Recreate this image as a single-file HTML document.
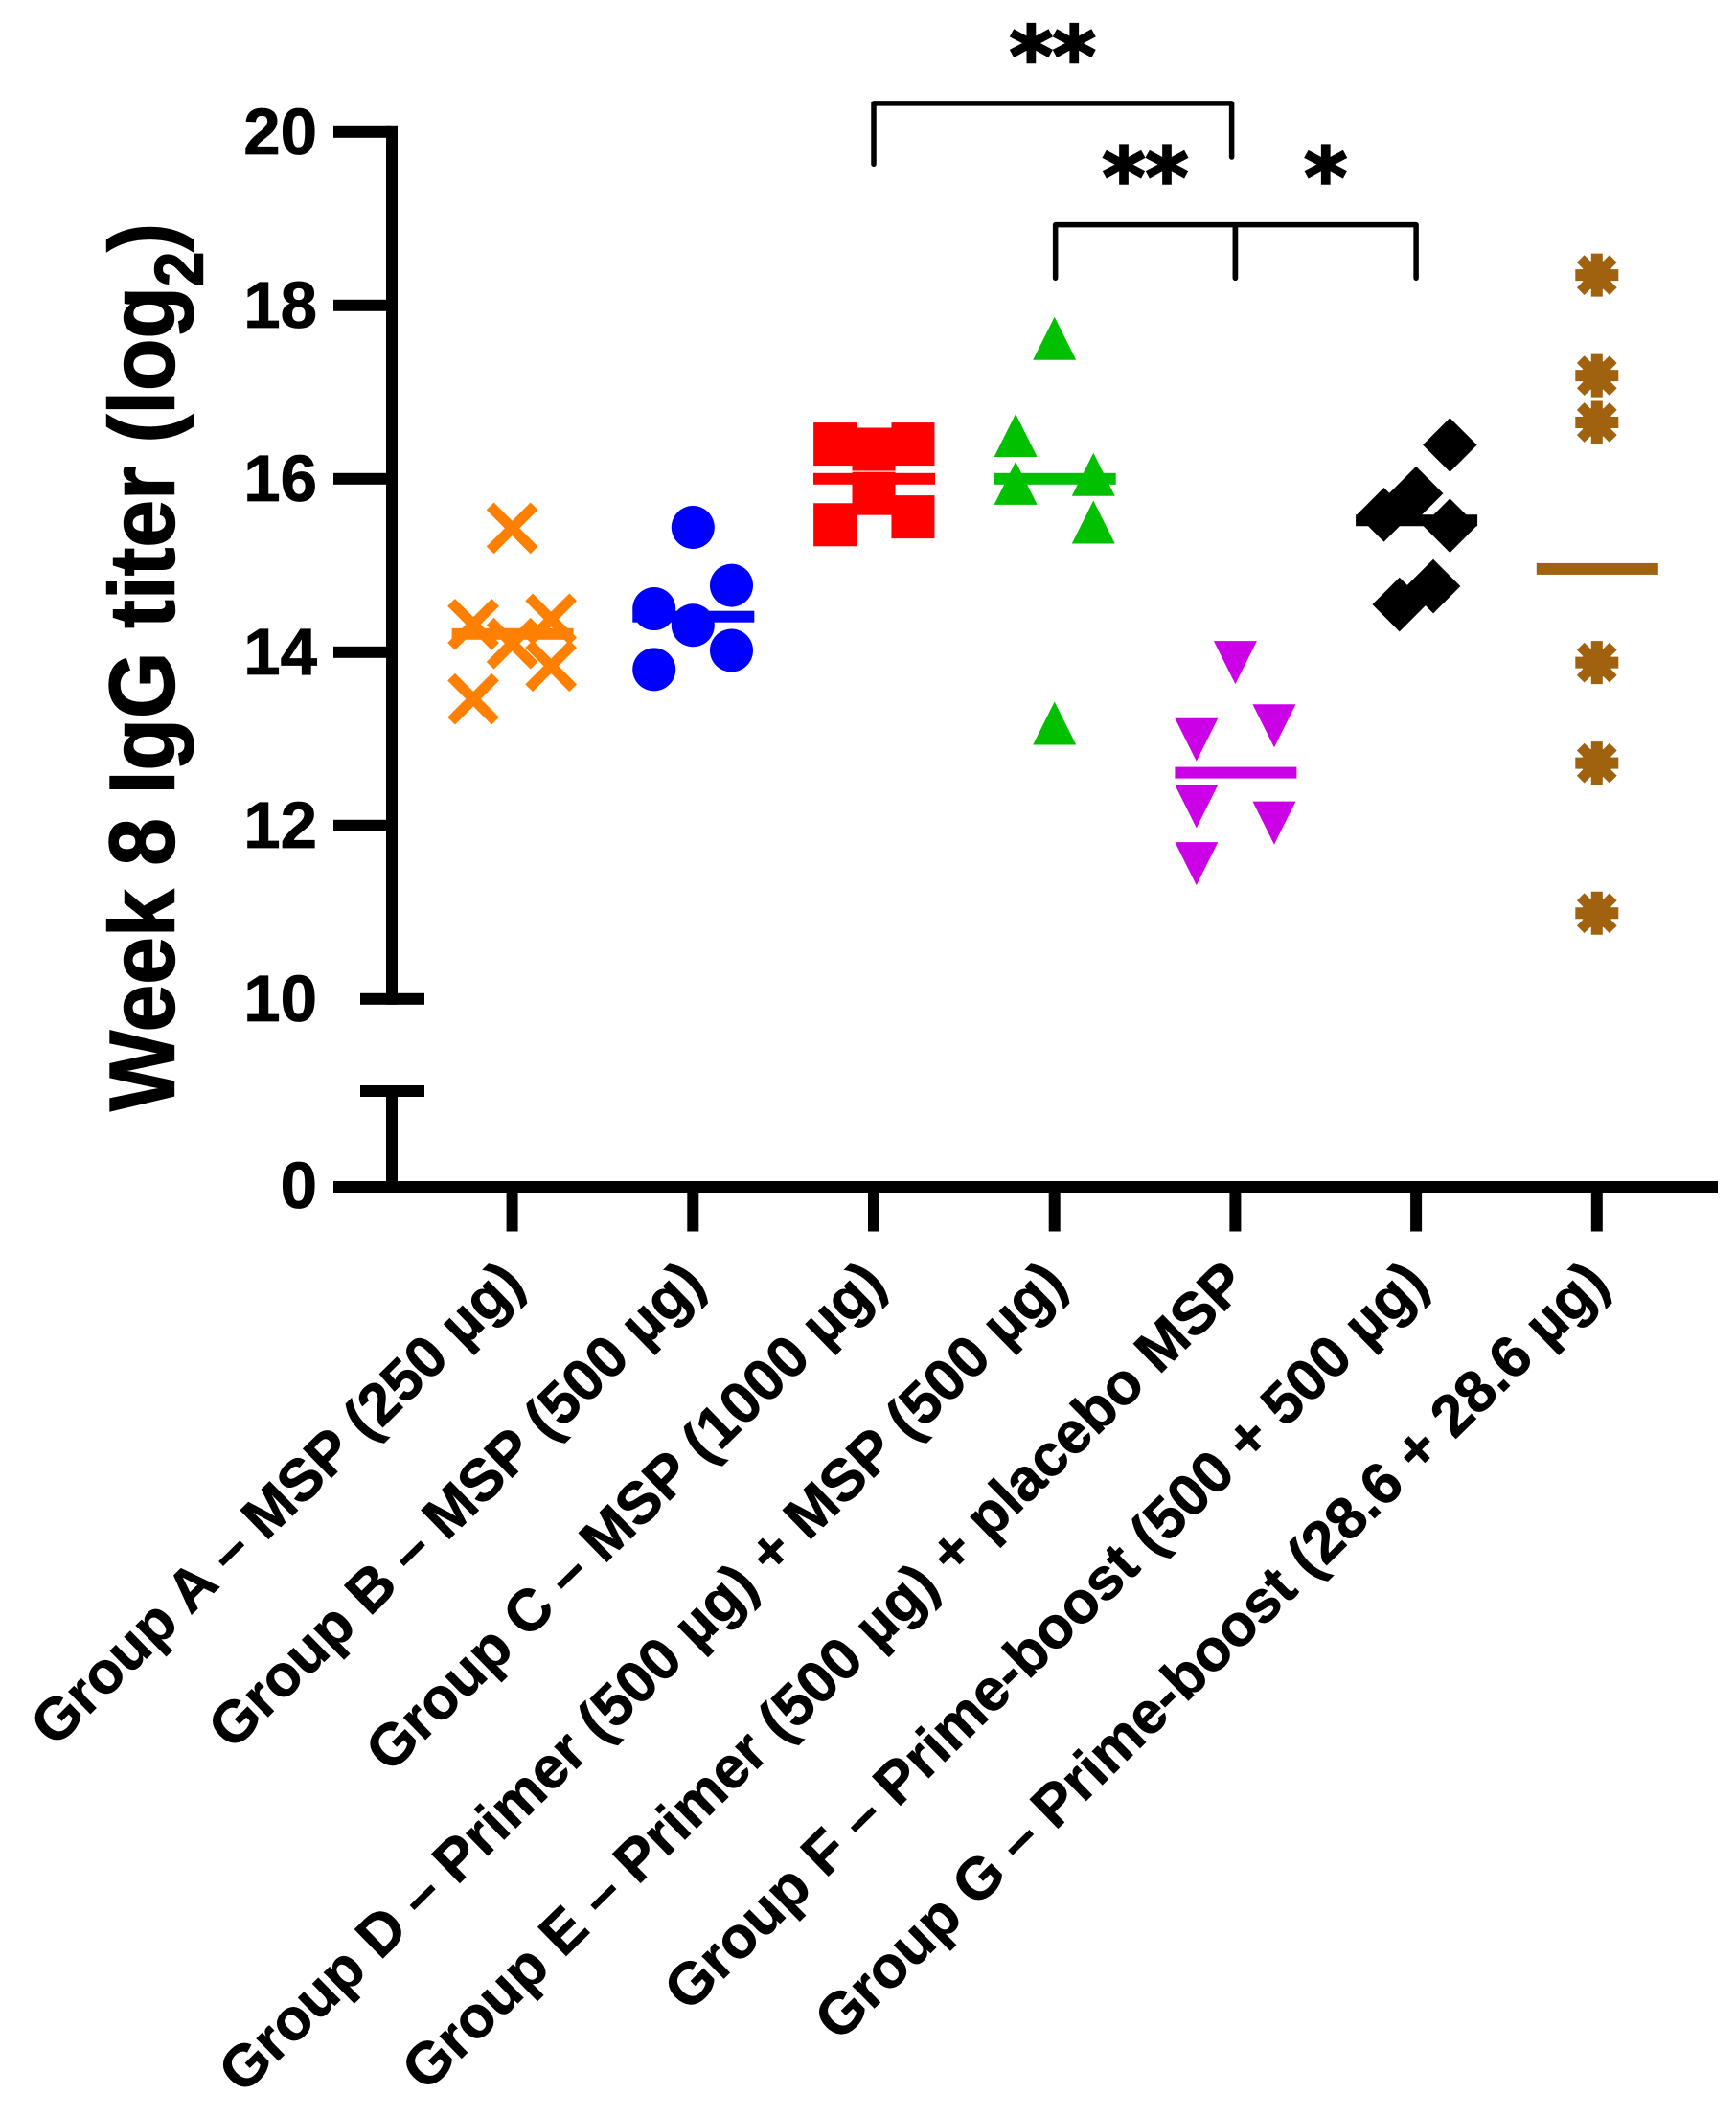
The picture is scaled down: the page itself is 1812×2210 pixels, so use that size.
<!DOCTYPE html>
<html lang="en">
<head>
<meta charset="utf-8">
<title>Week 8 IgG titer by group</title>
<style>
  html, body { margin: 0; padding: 0; background: #ffffff; }
  #chart { display: block; width: 1812px; height: 2210px; }
  text { font-family: "Liberation Sans", Arial, sans-serif; font-weight: 700; fill: #000; stroke: #000; stroke-width: 0.8px; }
  #ytitle { stroke-width: 1.4px; }
  .sig { font-family: "DejaVu Sans", sans-serif; font-weight: 700; stroke-width: 2.6px; }
</style>
</head>
<body>
<svg id="chart" xmlns="http://www.w3.org/2000/svg" width="1812" height="2210" viewBox="0 0 1812 2210">
  <rect x="0" y="0" width="1812" height="2210" fill="#ffffff"/>
  <g id="axes"></g>
  <g id="marks"></g>
  <g id="brackets"></g>
  <text id="ytitle" transform="translate(181.6 1160) rotate(-90) scale(0.92 1)" font-size="97">Week 8 IgG titer (log<tspan dy="30" font-size="71">2</tspan><tspan dy="-30">)</tspan></text>
</svg>
<script>
// ---------- data ----------
const categories = [
  "Group A – MSP (250 µg)",
  "Group B – MSP (500 µg)",
  "Group C – MSP (1000 µg)",
  "Group D – Primer (500 µg) + MSP (500 µg)",
  "Group E – Primer (500 µg) + placebo MSP",
  "Group F – Prime-boost (500 + 500 µg)",
  "Group G – Prime-boost (28.6 + 28.6 µg)"
];
const yTickValues = [20, 18, 16, 14, 12, 10];
const yTickLabels = ["20", "18", "16", "14", "12", "10"];
const zeroTickLabel = "0";

const groupAValues = [15.43, 14.32, 14.38, 14.10, 13.84, 13.46];
const groupBValues = [15.44, 14.77, 14.50, 14.31, 14.02, 13.80];
const groupCValues = [16.40, 16.40, 16.34, 15.83, 15.56, 15.47];
const groupDValues = [17.62, 16.50, 15.95, 16.05, 15.50, 13.18];
const groupEValues = [13.88, 13.15, 12.99, 12.22, 12.03, 11.56];
const groupFValues = [16.39, 15.83, 15.585, 15.46, 14.76, 14.55];
const groupGValues = [18.35, 17.19, 16.65, 13.88, 12.72, 10.99];

// horizontal swarm offset of each point, in category units
const groupAJitter = [0, -0.215, 0.215, 0, 0.215, -0.215];
const groupBJitter = [0, 0.213, -0.215, 0, 0.213, -0.215];
const groupCJitter = [-0.214, 0.217, 0, 0, 0.217, -0.214];
const groupDJitter = [0, -0.215, -0.215, 0.215, 0.215, 0];
const groupEJitter = [0, 0.215, -0.215, -0.215, 0.215, -0.215];
const groupFJitter = [0.187, 0, -0.178, 0.187, 0.095, -0.092];
const groupGJitter = [0, 0, 0, 0, 0, 0];

const groupMeans = [14.21, 14.41, 16.0, 16.0, 12.61, 15.52, 14.96];

const bracketSpans = [[2, 3.98], [3.005, 4], [4, 5]];
const bracketTopValues = [20.33, 18.93, 18.93];
const bracketLeftEnds = [19.63, 18.315, 18.315];
const bracketRightEnds = [19.71, 18.315, 18.315];
const sigLabels = ["**", "**", "*"];

// ---------- scales ----------
function xScale(c) { return 534.6 + c * 188.7; }
function yScale(v) { return v === 0 ? 1239 : 1042.8 - (v - 10) * 90.5; }

const NS = "http://www.w3.org/2000/svg";
function make(parent, tag, attrs) {
  const el = document.createElementNS(NS, tag);
  for (const k in attrs) el.setAttribute(k, attrs[k]);
  parent.appendChild(el);
  return el;
}
const axes = document.getElementById("axes");
const marks = document.getElementById("marks");
const brackets = document.getElementById("brackets");

// ---------- axes ----------
let el = make(axes, "rect", { x: 403, y: yScale(20) - 6, width: 12, height: yScale(10) - yScale(20) + 12, fill: "#000" });



el = make(axes, "rect", { x: 403, y: 1133, width: 12, height: 106, fill: "#000" });



el = make(axes, "rect", { x: 376, y: 1133, width: 67, height: 12, fill: "#000" });



el = make(axes, "rect", { x: 348, y: yScale(0) - 6, width: 1445, height: 12, fill: "#000" });



yTickValues.forEach(function (v, i) {
  const isBreak = v === 10;
  const tick = make(axes, "rect", { x: isBreak ? 376 : 348, y: yScale(v) - 6, width: isBreak ? 67 : 60, height: 12, fill: "#000" });
  
  
  const lab = make(axes, "text", { x: 331, y: yScale(v) + 23, "text-anchor": "end", "font-size": 69 });
  lab.textContent = yTickLabels[i];
  
  
});
el = make(axes, "text", { x: 331, y: yScale(0) + 22, "text-anchor": "end", "font-size": 69 });
el.textContent = zeroTickLabel;



categories.forEach(function (name, c) {
  const x = xScale(c);
  const tick = make(axes, "rect", { x: x - 6, y: yScale(0), width: 12, height: 46.5, fill: "#000" });
  
  
  const lab = make(axes, "text", { transform: "translate(" + (x + 15) + " 1343) rotate(-44.4)", "text-anchor": "end", "font-size": 61.2 });
  lab.textContent = name;
  
  
});

// ---------- marker shapes ----------
function drawCross(g, color) {
  make(g, "line", { x1: -23, y1: -23, x2: 23, y2: 23, stroke: color, "stroke-width": 11 });
  make(g, "line", { x1: -23, y1: 23, x2: 23, y2: -23, stroke: color, "stroke-width": 11 });
}
function drawCircle(g, color) { make(g, "circle", { cx: 0, cy: 0, r: 22.5, fill: color }); }
function drawSquare(g, color) { make(g, "rect", { x: -22.5, y: -22.5, width: 45, height: 45, fill: color }); }
function drawUp(g, color) { make(g, "polygon", { points: "0,-22.5 22.5,22.5 -22.5,22.5", fill: color }); }
function drawDown(g, color) { make(g, "polygon", { points: "0,22.5 22.5,-22.5 -22.5,-22.5", fill: color }); }
function drawDiamond(g, color) { make(g, "polygon", { points: "0,-28.3 28.3,0 0,28.3 -28.3,0", fill: color }); }
function drawStar(g, color) {
  make(g, "circle", { cx: 0, cy: 0, r: 16, fill: color });
  make(g, "line", { x1: -22.5, y1: 0, x2: 22.5, y2: 0, stroke: color, "stroke-width": 12 });
  make(g, "line", { x1: 0, y1: -22.5, x2: 0, y2: 22.5, stroke: color, "stroke-width": 12 });
  make(g, "line", { x1: -17, y1: -17, x2: 17, y2: 17, stroke: color, "stroke-width": 11 });
  make(g, "line", { x1: -17, y1: 17, x2: 17, y2: -17, stroke: color, "stroke-width": 11 });
}

function drawGroup(c, values, jitter, color, shape, key) {
  values.forEach(function (v, i) {
    const g = make(marks, "g", { transform: "translate(" + xScale(c + jitter[i]) + " " + yScale(v) + ")" });
    
    
    shape(g, color);
  });
  const m = make(marks, "rect", { x: xScale(c) - 63, y: yScale(groupMeans[c]) - 6, width: 127, height: 12, fill: color });
  
  
}
drawGroup(0, groupAValues, groupAJitter, "#FF8000", drawCross, "group-a");
drawGroup(1, groupBValues, groupBJitter, "#0000FF", drawCircle, "group-b");
drawGroup(2, groupCValues, groupCJitter, "#FF0000", drawSquare, "group-c");
drawGroup(3, groupDValues, groupDJitter, "#00C000", drawUp, "group-d");
drawGroup(4, groupEValues, groupEJitter, "#CC00E6", drawDown, "group-e");
drawGroup(5, groupFValues, groupFJitter, "#000000", drawDiamond, "group-f");
drawGroup(6, groupGValues, groupGJitter, "#A0620E", drawStar, "group-g");

// ---------- significance brackets ----------
bracketSpans.forEach(function (span, i) {
  const x1 = xScale(span[0]), x2 = xScale(span[1]);
  const top = yScale(bracketTopValues[i]);
  const b = make(brackets, "path", {
    d: "M" + x1 + " " + yScale(bracketLeftEnds[i]) + "V" + top + "H" + x2 + "V" + yScale(bracketRightEnds[i]),
    fill: "none", stroke: "#000", "stroke-width": 5.5, "stroke-linejoin": "round", "stroke-linecap": "round"
  });
  
  
  const t = make(brackets, "text", {
    x: (x1 + x2) / 2, y: top - 19, "text-anchor": "middle", "font-size": 86, "class": "sig"
  });
  t.textContent = sigLabels[i];
  
  
});
</script>
</body>
</html>
